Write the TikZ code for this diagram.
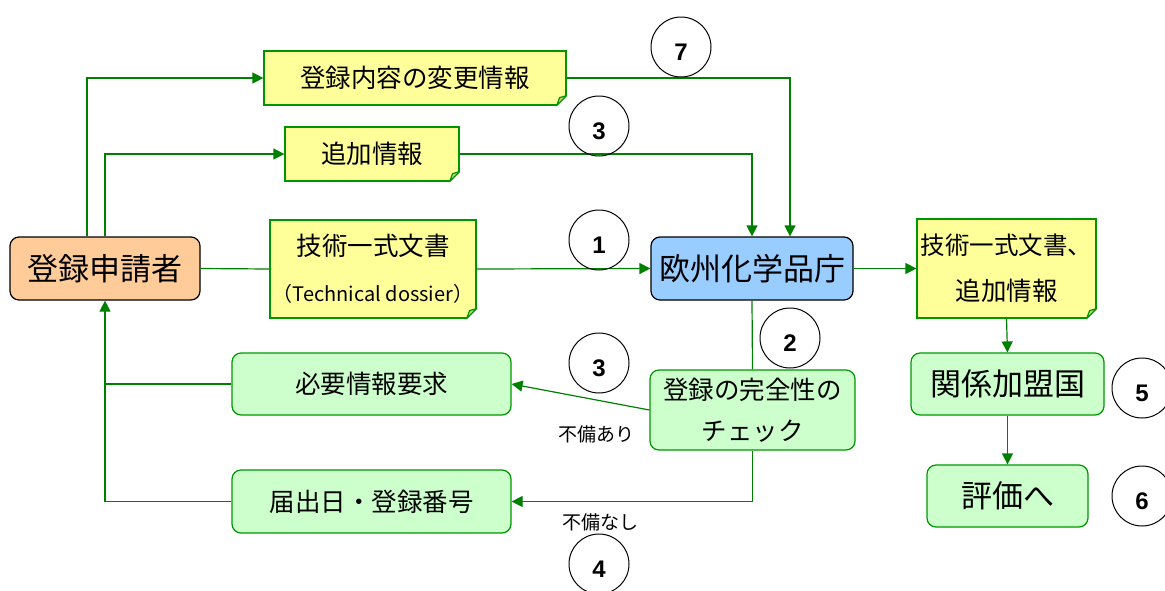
\documentclass[tikz,border=0pt]{standalone}
\usepackage{fontspec}
\setmainfont{Noto Sans CJK JP}
\newfontfamily\numfont{Liberation Sans}
\usetikzlibrary{arrows.meta}

\definecolor{flowgreen}{RGB}{0,128,0}
\definecolor{boxgreen}{RGB}{0,150,0}
\definecolor{notefill}{RGB}{255,255,153}
\definecolor{applfill}{RGB}{255,204,153}
\definecolor{echafill}{RGB}{153,204,255}
\definecolor{stepfill}{RGB}{204,255,204}
\definecolor{foldfill}{RGB}{204,204,122}

\tikzset{
  flow/.style={draw=flowgreen, line width=1.2pt},
  arr/.style={flow, -{Triangle[length=11pt,width=11pt]}},
  notebox/.style={draw=boxgreen, fill=notefill, line width=1.2pt, inner sep=0pt,
    align=center, font=\fontsize{25.5}{46}\selectfont},
  greenbox/.style={draw=boxgreen, fill=stepfill, rounded corners=9pt, line width=1.2pt,
    inner sep=0pt, align=center, font=\fontsize{25.5}{41}\selectfont},
  mainbox/.style={draw=black, rounded corners=9pt, line width=1.2pt, inner sep=0pt,
    font=\fontsize{31}{32}\selectfont},
  numcirc/.style={draw=black, circle, line width=1pt, minimum size=60pt, inner sep=0pt},
  numtext/.style={font=\numfont\bfseries\fontsize{24}{24}\selectfont, yshift=-5pt},
  remark/.style={font=\fontsize{19}{20}\selectfont}
}

% folded corner of a note
\newcommand{\foldcorner}[1]{%
  \fill[white] ([xshift=-11pt,yshift=-1pt]#1.south east) -- ([xshift=1pt,yshift=-1pt]#1.south east)
    -- ([xshift=1pt,yshift=11pt]#1.south east) -- cycle;
  \draw[boxgreen, line width=1.2pt, line join=round, fill=foldfill]
    ([xshift=-10pt]#1.south east) -- ([yshift=10pt]#1.south east)
    -- ([xshift=-7pt,yshift=8pt]#1.south east) -- cycle;
}

\begin{document}
\begin{tikzpicture}[x=1pt, y=-1pt]
\useasboundingbox (0,0) rectangle (1165,590);

% main actors
\node[mainbox, fill=applfill, minimum width=190pt, minimum height=63pt] (applicant) at (105,268.5) {登録申請者};
\node[mainbox, fill=echafill, minimum width=202pt, minimum height=63pt] (echa) at (752,268.5) {欧州化学品庁};

% documents
\node[notebox, minimum width=302pt, minimum height=54pt] (change) at (415,78) {登録内容の変更情報};
\node[notebox, minimum width=174pt, minimum height=54pt] (addinfo) at (372,154) {追加情報};
\node[notebox, minimum width=206pt, minimum height=98pt] (dossier) at (373,269)
  {技術一式文書\\{\fontsize{20}{22}\selectfont （Technical dossier）}};
\node[notebox, minimum width=179pt, minimum height=99pt] (outdoc) at (1006.5,268.5)
  {{\fontsize{24.5}{26}\selectfont 技術一式文書、}\\追加情報};
\foldcorner{change}
\foldcorner{addinfo}
\foldcorner{dossier}
\foldcorner{outdoc}

% steps
\node[greenbox, minimum width=205pt, minimum height=80pt] (check) at (752.5,410) {登録の完全性の\\チェック};
\node[greenbox, minimum width=279pt, minimum height=62pt] (request) at (371.5,384) {必要情報要求};
\node[greenbox, minimum width=279pt, minimum height=63pt] (regno) at (371.5,501.5) {届出日・登録番号};
\node[greenbox, minimum width=193pt, minimum height=62pt, font=\fontsize{31}{32}\selectfont] (member) at (1007.5,384) {関係加盟国};
\node[greenbox, minimum width=161pt, minimum height=62pt, font=\fontsize{31}{32}\selectfont] (evaluate) at (1007.5,496) {評価へ};

% connectors
\draw[arr] ([xshift=-18pt]applicant.north) |- (change.west);
\draw[arr] (applicant.north) |- (addinfo.west);
\draw[flow] (applicant.east) -- (dossier.west);
\draw[arr] (dossier.east) -- (echa.west);
\draw[arr] (change.east) -| ([xshift=38pt]echa.north);
\draw[arr] (addinfo.east) -| (echa.north);
\draw[arr] (echa.east) -- (outdoc.west);
\draw[arr] (outdoc.south) -- (member.north);
\draw[arr] (member.south) -- (evaluate.north);
\draw[flow] (echa.south) -- (check.north);
\draw[arr] (check.west) -- (request.east);
\draw[arr] (check.south) |- (regno.east);
\draw[flow] (request.west) -- (request.west -| applicant.south);
\draw[arr] (regno.west) -| (applicant.south);

% remarks
\node[remark] (ng) at (596,434) {不備あり};
\node[remark] (ok) at (600,522) {不備なし};

% step numbers
\node[numcirc] (c7) at (681,47) {};
\node[numtext] at (c7) {7};
\node[numcirc] (c3a) at (599,126) {};
\node[numtext] at (c3a) {3};
\node[numcirc] (c1) at (599,240) {};
\node[numtext] at (c1) {1};
\node[numcirc] (c2) at (790,338) {};
\node[numtext] at (c2) {2};
\node[numcirc] (c3b) at (599,363) {};
\node[numtext] at (c3b) {3};
\node[numcirc] (c4) at (599,564) {};
\node[numtext] at (c4) {4};
\node[numcirc] (c5) at (1142,388) {};
\node[numtext] at (c5) {5};
\node[numcirc] (c6) at (1142,496) {};
\node[numtext] at (c6) {6};

\end{tikzpicture}
\end{document}
